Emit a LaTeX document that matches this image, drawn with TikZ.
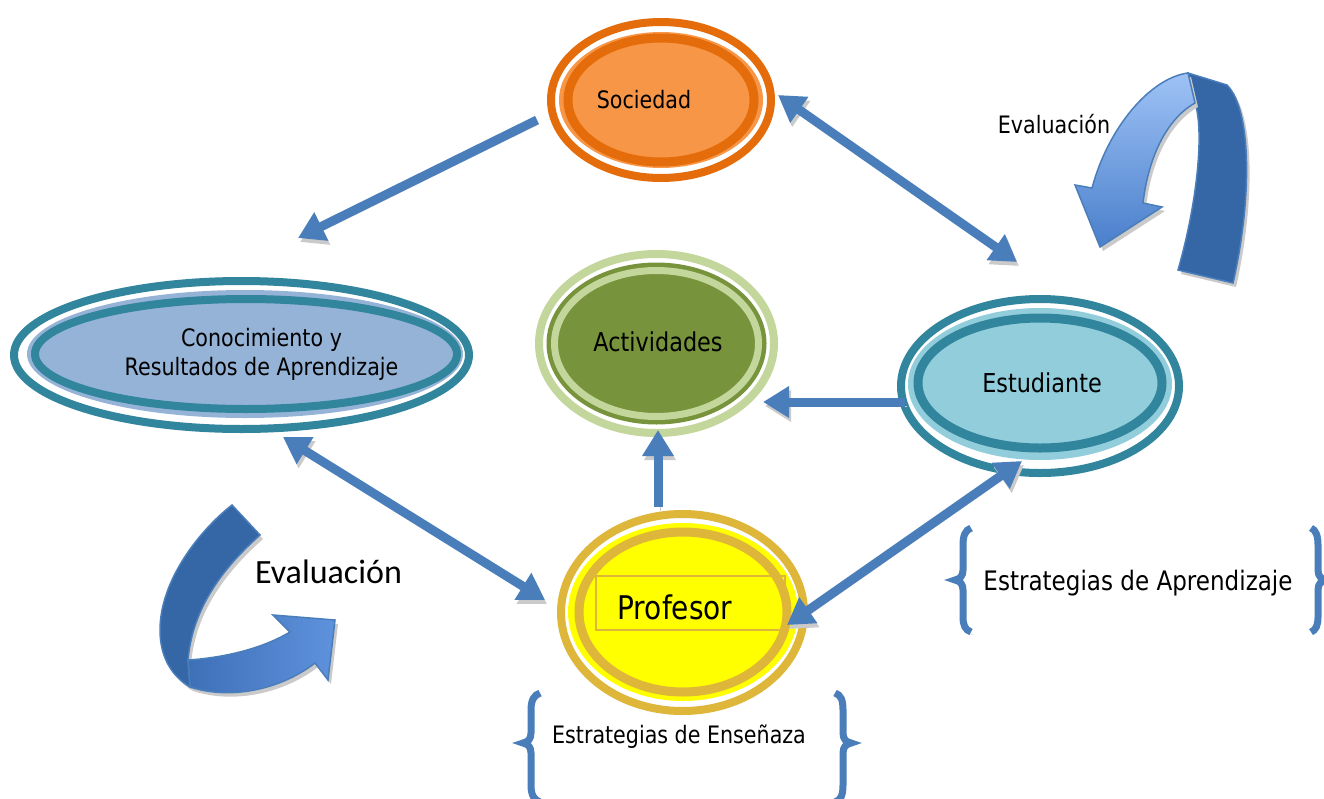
\documentclass[tikz,border=0pt]{standalone}
\usepackage{fontspec}
\usetikzlibrary{arrows.meta}
\newfontfamily\tahfont[FakeStretch=0.86]{DejaVu Sans}
\newfontfamily\calfont{Carlito}
\definecolor{orangeD}{HTML}{E46C0A}
\definecolor{orangeL}{HTML}{F79646}
\definecolor{tealD}{HTML}{31859C}
\definecolor{blueL}{HTML}{95B3D7}
\definecolor{cyanL}{HTML}{92CDDC}
\definecolor{greenL}{HTML}{C3D69B}
\definecolor{greenD}{HTML}{77933C}
\definecolor{goldR}{RGB}{221,182,58}
\definecolor{yel}{HTML}{FFFF00}
\definecolor{arrowblue}{HTML}{4A7EBB}
\definecolor{darkblue}{HTML}{3566A6}
\definecolor{shadowgray}{HTML}{CACACA}
\definecolor{lightA}{HTML}{9EC2F6}
\definecolor{lightB}{HTML}{4A7FCB}
\definecolor{lightC}{HTML}{3E70B8}
\definecolor{lightD}{HTML}{5E92DC}
\begin{document}
\begin{tikzpicture}[x=1pt,y=-1pt,
  lab/.style={inner sep=0pt, text=black},
  barrow/.style={line width=9pt, draw=arrowblue,
    preaction={draw=shadowgray, transform canvas={shift={(2,4)}}}},
  onetip/.style={-{Triangle[width=30pt,length=26pt]}},
  twotip/.style={{Triangle[width=30pt,length=26pt]}-{Triangle[width=30pt,length=26pt]}},
  bracestyle/.style={line width=7pt, draw=arrowblue,
    preaction={draw=shadowgray, transform canvas={shift={(2,3)}}}},
  curvshadow/.style={preaction={fill=shadowgray, transform canvas={shift={(3,4)}}}}
]
\useasboundingbox (0,0) rectangle (1324,798);
\fill[white] (0,0) rectangle (1324,798);

% Sociedad
\draw[orangeD, line width=8pt] (661,100) ellipse [x radius=110, y radius=78];
\fill[orangeL] (661,100) ellipse [x radius=102, y radius=68];
\draw[orangeD, line width=9pt] (661,100) ellipse [x radius=93, y radius=62];
\node[lab, font={\tahfont\fontsize{24}{29}\selectfont}] (soc) at (644,100) {Sociedad};

% Conocimiento
\draw[tealD, line width=8pt] (241.5,355) ellipse [x radius=227.5, y radius=74];
\fill[blueL] (245,354) ellipse [x radius=218, y radius=64];
\draw[tealD, line width=8pt] (246,354) ellipse [x radius=211, y radius=55];
\node[lab, align=center, font={\tahfont\fontsize{24}{29}\selectfont}] (cono) at (261.5,354.5) {Conocimiento y\\Resultados de Aprendizaje};

% Actividades
\draw[greenL, line width=8pt] (656.5,343.5) ellipse [x radius=117.5, y radius=89.5];
\fill[greenD] (656.5,343.5) ellipse [x radius=110, y radius=81];
\draw[greenL, line width=7pt] (656.5,343.5) ellipse [x radius=102, y radius=73];
\node[lab, font={\tahfont\fontsize{26}{31}\selectfont}] (act) at (658,342) {Actividades};

% Estudiante
\draw[tealD, line width=8pt] (1040,386) ellipse [x radius=139, y radius=87];
\fill[cyanL] (1040,384) ellipse [x radius=132, y radius=76];
\draw[tealD, line width=9pt] (1040,383) ellipse [x radius=122, y radius=65];
\node[lab, font={\tahfont\fontsize{26}{31}\selectfont}] (est) at (1042,383) {Estudiante};

% Profesor
\draw[goldR, line width=8pt] (682.5,612.5) ellipse [x radius=121.5, y radius=98.5];
\fill[yel] (683,612) ellipse [x radius=115, y radius=89];
\draw[goldR, line width=9pt] (683,612) ellipse [x radius=104, y radius=80];
\draw[goldR, line width=1.5pt] (596,576) rectangle (785,630);
\node[lab, font={\tahfont\fontsize{32.6}{38}\selectfont}] (prof) at (675,607) {Profesor};

% connector end points
\coordinate (sA) at (537,120);  \coordinate (cA) at (298,238);
\coordinate (sB) at (778,95);   \coordinate (eB) at (1017,262);
\coordinate (cC) at (283,437);  \coordinate (pC) at (545,600);
\coordinate (eD) at (905,402);  \coordinate (aD) at (763,402);
\coordinate (pE) at (658,507);  \coordinate (aE) at (658,430);
\coordinate (eF) at (1022,461); \coordinate (pF) at (787,625);

\draw[barrow, onetip] (sA) -- (cA);
\draw[barrow, twotip] (sB) -- (eB);
\draw[barrow, twotip] (cC) -- (pC);
\draw[barrow, onetip] (eD) -- (aD);
\draw[barrow, onetip] (pE) -- (aE);
\draw[barrow, twotip] (eF) -- (pF);

% braces
\draw[bracestyle] (971,528) .. controls (965,530) and (963,536) .. (963,545) -- (963,570)
  .. controls (963,576) and (960,579) .. (955,580) .. controls (960,581) and (963,584) .. (963,590)
  -- (963,617) .. controls (963,625) and (965,630) .. (971,632);
\draw[bracestyle] (1311,528) .. controls (1316,530) and (1318,536) .. (1318,545) -- (1318,570)
  .. controls (1318,576) and (1321,579) .. (1326,580) .. controls (1321,581) and (1318,584) .. (1318,590)
  -- (1318,617) .. controls (1318,625) and (1316,630) .. (1311,632);
\draw[bracestyle] (540,693) .. controls (534,695) and (531,700) .. (531,710) -- (531,733)
  .. controls (531,739) and (528,742) .. (523,743) .. controls (528,744) and (531,747) .. (531,753)
  -- (531,785) .. controls (531,795) and (534,800) .. (540,802);
\draw[bracestyle] (835,693) .. controls (841,695) and (843,700) .. (843,710) -- (843,733)
  .. controls (843,739) and (846,742) .. (851,743) .. controls (846,744) and (843,747) .. (843,753)
  -- (843,785) .. controls (843,795) and (841,800) .. (835,802);

% curved arrow top right
\filldraw[curvshadow, fill=darkblue, draw=arrowblue, line width=1.5pt]
  (1188,73) -- (1227,85) .. controls (1252,110) and (1252,200) .. (1233,283)
  -- (1178,270) .. controls (1198,200) and (1204,130) .. (1195,103) -- cycle;
\shade[curvshadow, top color=lightA, bottom color=lightB, draw=arrowblue, line width=1.5pt]
  (1188,73) .. controls (1150,78) and (1108,128) .. (1092,188) -- (1075,185) -- (1100,247)
  -- (1162,207) -- (1143,203) .. controls (1148,160) and (1165,120) .. (1195,103) -- cycle;

% curved arrow bottom left
\filldraw[curvshadow, fill=darkblue, draw=arrowblue, line width=1.5pt]
  (232,505) -- (260,535) .. controls (215,575) and (192,615) .. (188,660) -- (190,687)
  .. controls (170,675) and (160,655) .. (160,630) .. controls (160,580) and (200,530) .. (232,505) -- cycle;
\shade[curvshadow, left color=lightC, right color=lightD, draw=arrowblue, line width=1.5pt]
  (188,660) .. controls (220,658) and (260,650) .. (290,632) -- (273,615) -- (335,620)
  -- (328,680) -- (315,663) .. controls (280,690) and (230,700) .. (190,687) -- cycle;

% labels
\node[lab, font={\tahfont\fontsize{24}{29}\selectfont}] (evalA) at (1054,124) {Evaluación};
\node[lab, font={\calfont\fontsize{34}{40}\selectfont}] (evalB) at (328.5,572) {Evaluación};
\node[lab, font={\tahfont\fontsize{26.8}{32}\selectfont}] (estrA) at (1138,583) {Estrategias de Aprendizaje};
\node[lab, font={\tahfont\fontsize{24}{29}\selectfont}] (estrE) at (679,737) {Estrategias de Enseñaza};
\end{tikzpicture}
\end{document}
